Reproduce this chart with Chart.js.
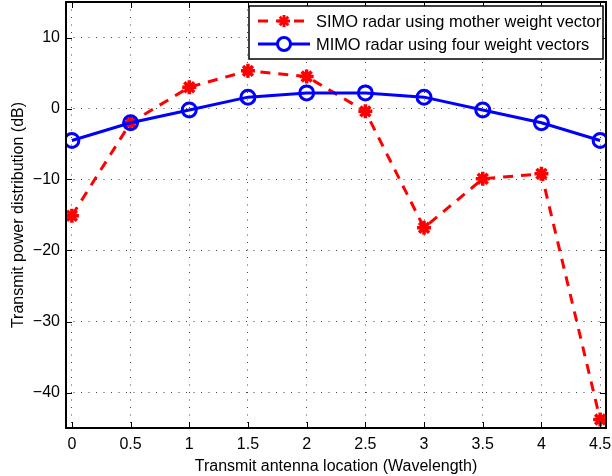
<!DOCTYPE html>
<html>
<head>
<meta charset="utf-8">
<script src="https://cdn.jsdelivr.net/npm/chart.js@4"></script>
<style>
  html, body { margin: 0; padding: 0; background: #fff; }
  #wrap { width: 612px; height: 476px; }
</style>
</head>
<body>
<div id="wrap"><canvas id="grafico" width="612" height="476"></canvas></div>
<script>
// dados
const posicoes = [0, 0.5, 1, 1.5, 2, 2.5, 3, 3.5, 4, 4.5];
const simo = [-15.1, -2.0, 3.0, 5.3, 4.5, -0.4, -16.8, -9.9, -9.2, -43.8];
const mimo = [-4.5, -2.0, -0.2, 1.6, 2.2, 2.2, 1.6, -0.2, -2.0, -4.5];
const xTicks = [0, 0.5, 1, 1.5, 2, 2.5, 3, 3.5, 4, 4.5];
const yTicks = [-40, -30, -20, -10, 0, 10];
const nomes = ['SIMO radar using mother weight vector', 'MIMO radar using four weight vectors'];

const FONTE = '"Liberation Sans", Arial, sans-serif';

// moldura + ticks para dentro (estilo MATLAB) + legenda
const moldura = {
    id: 'moldura',
    afterDraw(chart) {
        const c = chart.ctx, a = chart.chartArea;
        const sx = chart.scales.x, sy = chart.scales.y;
        c.save();
        c.strokeStyle = '#000';
        c.lineWidth = 1;
        xTicks.forEach(v => {
            const px = Math.round(sx.getPixelForValue(v)) + 0.5;
            c.beginPath();
            c.moveTo(px, a.bottom); c.lineTo(px, a.bottom - 6);
            c.moveTo(px, a.top); c.lineTo(px, a.top + 6);
            c.stroke();
        });
        yTicks.forEach(v => {
            const py = Math.round(sy.getPixelForValue(v)) + 0.5;
            c.beginPath();
            c.moveTo(a.left, py); c.lineTo(a.left + 6, py);
            c.moveTo(a.right, py); c.lineTo(a.right - 6, py);
            c.stroke();
        });
        c.lineWidth = 2;
        c.strokeRect(a.left, a.top, a.right - a.left, a.bottom - a.top);

        // legenda
        const lx = 249, ly = 6, lw = 354, lh = 53;
        c.fillStyle = '#fff';
        c.fillRect(lx, ly, lw, lh);
        c.lineWidth = 1.5;
        c.strokeRect(lx, ly, lw, lh);
        const linhas = [ly + 15, ly + 38];
        chart.data.datasets.forEach((ds, i) => {
            const y = linhas[i];
            c.strokeStyle = ds.borderColor;
            c.lineWidth = 3;
            c.setLineDash(ds.borderDash || []);
            c.beginPath();
            c.moveTo(258, y); c.lineTo(310, y);
            c.stroke();
            c.setLineDash([]);
            if (i === 0) {
                c.lineWidth = 3;
                for (let k = 0; k < 4; k++) {
                    const ang = k * Math.PI / 4;
                    c.beginPath();
                    c.moveTo(284 - 6 * Math.cos(ang), y - 6 * Math.sin(ang));
                    c.lineTo(284 + 6 * Math.cos(ang), y + 6 * Math.sin(ang));
                    c.stroke();
                }
            } else {
                c.lineWidth = 3;
                c.fillStyle = '#fff';
                c.beginPath();
                c.arc(284, y, 6.5, 0, Math.PI * 2);
                c.fill();
                c.stroke();
            }
            c.fillStyle = '#000';
            c.font = '16.4px ' + FONTE;
            c.textBaseline = 'middle';
            c.textAlign = 'left';
            c.fillText(ds.label, 316, y + 1);
        });
        c.restore();
    }
};

new Chart(document.getElementById('grafico'), {
    type: 'line',
    data: {
        datasets: [
            {
                label: nomes[0],
                data: posicoes.map((x, i) => ({ x: x, y: simo[i] })),
                borderColor: '#ff0000',
                backgroundColor: '#ff0000',
                borderWidth: 3,
                borderDash: [10, 8],
                pointStyle: 'star',
                pointRadius: 7,
                pointBorderWidth: 3.5,
                tension: 0,
                order: 2
            },
            {
                label: nomes[1],
                data: posicoes.map((x, i) => ({ x: x, y: mimo[i] })),
                borderColor: '#0000ff',
                backgroundColor: 'rgba(0,0,0,0)',
                borderWidth: 3,
                pointStyle: 'circle',
                pointRadius: 7,
                pointBorderWidth: 3,
                tension: 0,
                order: 1
            }
        ]
    },
    options: {
        responsive: false,
        animation: false,
        layout: { autoPadding: false, padding: { top: 2, right: 6, left: 0, bottom: 0 } },
        plugins: {
            legend: { display: false },
            tooltip: { enabled: false }
        },
        scales: {
            x: {
                type: 'linear',
                min: -0.05,
                max: 4.55,
                afterBuildTicks: s => { s.ticks = xTicks.map(v => ({ value: v })); },
                afterFit: s => { s.height = 48; s.paddingLeft = 0; s.paddingRight = 0; },
                grid: { color: '#444', lineWidth: 1, drawTicks: false },
                border: { display: false, dash: [1, 6.5] },
                ticks: {
                    color: '#000', font: { family: FONTE, size: 16 }, padding: 7,
                    maxRotation: 0, autoSkip: false,
                    callback: v => String(v)
                },
                title: {
                    display: true, text: 'Transmit antenna location (Wavelength)',
                    color: '#000', font: { family: FONTE, size: 16 }, padding: { top: 1, bottom: 0 }
                }
            },
            y: {
                min: -45,
                max: 15,
                afterBuildTicks: s => { s.ticks = yTicks.map(v => ({ value: v })); },
                afterFit: s => { s.width = 66; s.paddingTop = 0; s.paddingBottom = 0; },
                grid: { color: '#444', lineWidth: 1, drawTicks: false },
                border: { display: false, dash: [1, 6.5] },
                ticks: {
                    color: '#000', font: { family: FONTE, size: 16 }, padding: 6,
                    callback: v => (v < 0 ? '\u2212' + Math.abs(v) : String(v))
                },
                title: {
                    display: true, text: 'Transmit power distribution (dB)',
                    color: '#000', font: { family: FONTE, size: 16 }, padding: { top: 9, bottom: 2 }
                }
            }
        }
    },
    plugins: [moldura]
});
</script>
</body>
</html>
